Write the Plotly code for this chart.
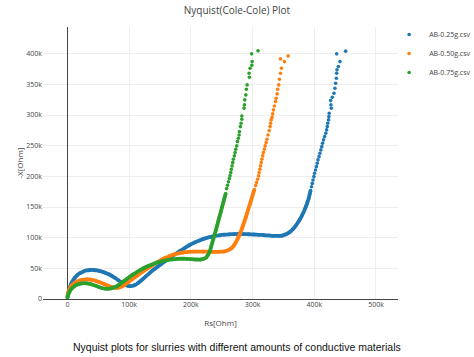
import plotly.graph_objects as go

# ---- data (kOhm) ----
series_names = ["AB-0.25g.csv", "AB-0.50g.csv", "AB-0.75g.csv"]
series_colors = ["#1f77b4", "#ff7f0e", "#2ca02c"]

# AB-0.25g : dense low-frequency part
ab025_low_rs = [0, 1.5, 3.5, 7, 11.5, 16, 21, 26, 31, 37, 42, 47, 52, 57, 62, 67, 72, 77, 82, 86,
                90, 94, 98, 102, 106, 110, 114, 118, 123, 128, 134, 140, 146, 152, 159, 166, 174,
                182, 190, 198, 206, 214, 222, 230, 238, 246, 254, 262, 270, 278, 286, 294, 302, 310,
                318, 326, 334, 342, 348, 353, 357, 361, 365, 368, 371, 374, 377, 380, 382.5, 385,
                387, 389, 391, 392.5, 394]
ab025_low_x = [3, 10, 18, 27, 34, 39, 42.5, 45, 46.5, 47.3, 47.3, 46.8, 45.8, 44.3, 42.5, 40.3, 37.5,
               34.5, 31, 28, 25.2, 22.8, 21.5, 21.1, 21.6, 23.2, 25.8, 29, 33.3, 37.8, 43, 48, 52.5,
               57, 62, 67, 72.5, 78, 83, 88, 92, 95.5, 98.5, 100.8, 102.5, 103.8, 104.8, 105.4,
               105.8, 106, 105.9, 105.6, 105.2, 104.7, 104.2, 103.6, 103, 102.8, 103.3, 105, 107,
               109.8, 113.5, 117, 121, 125.5, 130.5, 136, 141, 147, 152, 158, 164, 170.5, 177]
# AB-0.25g : sparse capacitive tail
ab025_high_rs = [395.5, 396.8, 398, 399.4, 400.5, 402, 403.5, 404.8, 406, 407.8, 409.1, 410.7, 412.2,
                 413.5, 415, 416.7, 418.7, 420, 421.1, 421.8, 423.2, 423.7, 424.2, 427.6, 427, 426.5,
                 429.2, 431.9, 433.5, 434.6, 435.8, 436.3, 436.8, 439, 441.6, 436.3, 450.9]
ab025_high_x = [183, 188.5, 194, 199.6, 205, 210.4, 215.8, 221.3, 226.8, 232.1, 237.7, 243.1, 248.4,
                254, 259.4, 264.8, 270.3, 275.7, 281.1, 286.6, 292, 297.4, 302.9, 311.1, 316.5, 323.5,
                329, 335.6, 343.7, 351.9, 360, 368.2, 373.6, 379, 387.1, 399.7, 404.1]

# AB-0.50g
ab050_low_rs = [0, 1.5, 3.5, 7, 11.5, 16, 21, 26, 31, 36, 41, 46, 51, 56, 61, 66, 71, 75, 79, 83, 87,
                91, 95, 100, 105, 110, 116, 122, 128, 134, 140, 146, 152, 158, 165, 172, 180, 188,
                196, 204, 212, 220, 228, 236, 244, 250, 255, 259, 263, 266.5, 269.5, 272, 274.5, 277,
                279, 281, 283, 285, 287, 289, 291, 293, 295, 297, 299, 301, 303]
ab050_low_x = [5, 11, 17, 22, 26, 28.7, 30.5, 31.5, 32, 31.8, 31, 29.6, 27.8, 25.8, 23.6, 21.6, 19.8,
               18.7, 18.2, 18.5, 19.8, 22, 24.8, 28.5, 32.3, 36, 40.3, 44.5, 48.5, 52.5, 56.5, 60.3,
               63.8, 66.8, 69.8, 72.3, 74.5, 76, 76.9, 77.3, 77.4, 77.3, 77.1, 76.9, 76.8, 77.1, 77.8,
               79, 81, 83.5, 87, 91, 95.5, 100.5, 105, 110, 115.5, 121, 127, 133, 139.5, 146, 152.5,
               159, 165.5, 172, 178.5]
ab050_high_rs = [305, 306.5, 308.2, 309.8, 310.6, 311.8, 313, 314, 315.2, 316.5, 317.5, 319.2, 320.4,
                 322, 323.3, 325, 327, 328.3, 329.2, 330.1, 331.7, 332.7, 333.8, 335.4, 337.1, 338.2,
                 339.8, 340.8, 342.4, 343.6, 345.2, 346.8, 351.7, 345.2, 357.7]
ab050_high_x = [185, 190, 195.2, 200.7, 206.1, 211.6, 217, 222.4, 227.9, 233.3, 238.7, 244.2, 249.6,
                255, 260.5, 267.5, 274.6, 281.1, 286.5, 292, 296.4, 301.8, 308.3, 314.8, 321.9, 327.4,
                334.4, 342.1, 349.1, 358.4, 368.2, 376.3, 387.1, 391.5, 396.4]

# AB-0.75g
ab075_low_rs = [0, 1.5, 3.5, 7, 11.5, 16, 21, 26, 31, 36, 41, 46, 51, 56, 61, 66, 71, 76, 81, 86, 91,
                96, 101, 106, 112, 118, 124, 130, 136, 142, 148, 155, 162, 170, 178, 186, 194, 202,
                210, 216, 221, 225, 228, 230.5, 232.5, 234.5, 236.5, 238.5, 240.5, 242.5, 244.5,
                246.5, 248.5, 250.5, 252.5, 254.5, 256.5]
ab075_low_x = [2, 7, 12, 17, 21, 23.5, 25, 25.8, 25.6, 24.8, 23.3, 21.5, 19.6, 17.9, 16.8, 16.6, 17.3,
               19, 21.5, 25, 28.8, 32.6, 36.3, 39.8, 43.6, 47.2, 50.6, 53.5, 56, 58.2, 60, 61.8, 63.3,
               64.5, 65.3, 65.6, 65.4, 64.9, 64.4, 64.4, 65.5, 68, 72, 77.5, 84, 91, 98, 105, 112,
               119.5, 127, 134.5, 142, 149.5, 157, 164.5, 172]
ab075_high_rs = [258, 259.5, 261, 262.5, 263.5, 264.7, 265.6, 266.8, 267.9, 268.9, 270.5, 271.7, 272.8,
                 274.4, 275.4, 277, 278.2, 278.7, 280.3, 281.4, 282.6, 282.6, 286.3, 286.8, 287.4,
                 289.1, 290, 291.2, 294.9, 294.4, 296, 298.8, 299.3, 298.5, 308.9]
ab075_high_x = [180, 185.5, 191, 196.5, 201, 206.1, 211.6, 217, 222.4, 227.9, 233.3, 238.7, 244.2,
                249.6, 256.6, 262.2, 267.5, 272.9, 281.1, 286.6, 293.1, 298.5, 311.1, 316.5, 324.6,
                332.8, 342.1, 349.1, 361.6, 368.2, 376.3, 381.2, 387.1, 399.7, 404.6]

x_ticks = [0, 100000, 200000, 300000, 400000, 500000]
x_tick_labels = ["0", "100k", "200k", "300k", "400k", "500k"]
y_ticks = [0, 50000, 100000, 150000, 200000, 250000, 300000, 350000, 400000]
y_tick_labels = ["0", "50k", "100k", "150k", "200k", "250k", "300k", "350k", "400k"]

title_text = "Nyquist(Cole-Cole) Plot"
caption_text = "Nyquist plots for slurries with different amounts of conductive materials"

series = [
    (ab025_low_rs, ab025_low_x, ab025_high_rs, ab025_high_x),
    (ab050_low_rs, ab050_low_x, ab050_high_rs, ab050_high_x),
    (ab075_low_rs, ab075_low_x, ab075_high_rs, ab075_high_x),
]

K = 1000.0
fig = go.Figure()
for name, color, (lr, lx, hr, hx) in zip(series_names, series_colors, series):
    # dense part: points are so close they read as a continuous thick band
    fig.add_trace(go.Scatter(
        x=[v * K for v in lr], y=[v * K for v in lx], mode="lines",
        line=dict(color=color, width=3.8, shape="spline", smoothing=0.6),
        legendgroup=name, showlegend=False, hoverinfo="skip"))
    fig.add_trace(go.Scatter(
        x=[v * K for v in lr + hr], y=[v * K for v in lx + hx], mode="markers",
        marker=dict(color=color, size=3.6),
        name=name, legendgroup=name))

fig.update_layout(
    width=474, height=357,
    template="none",
    paper_bgcolor="white", plot_bgcolor="white",
    font=dict(family="Open Sans, DejaVu Sans, sans-serif", color="#444", size=7),
    margin=dict(l=43, r=76, t=27, b=58, pad=0, autoexpand=False),
    title=dict(text=title_text, x=0.5, xref="container", xanchor="center",
               y=1 - 10 / 357, yref="container", yanchor="middle",
               font=dict(size=10, color="#444")),
    showlegend=True,
    legend=dict(x=0.975, y=1.026, xanchor="left", yanchor="top",
                font=dict(size=7, color="#444"), bgcolor="rgba(0,0,0,0)",
                tracegroupgap=0),
    xaxis=dict(range=[-39600, 535700], tickmode="array", tickvals=x_ticks, ticktext=x_tick_labels,
               showgrid=True, gridcolor="#eee", gridwidth=1, automargin=False,
               zeroline=True, zerolinecolor="#444", zerolinewidth=1,
               showline=False, ticks="", tickfont=dict(size=7, color="#444"),
               title=dict(text="Rs[Ohm]", font=dict(size=8, color="#444"), standoff=12)),
    yaxis=dict(range=[0, 443500], tickmode="array", tickvals=y_ticks, ticktext=y_tick_labels,
               showgrid=True, gridcolor="#eee", gridwidth=1, automargin=False,
               zeroline=True, zerolinecolor="#444", zerolinewidth=1,
               showline=False, ticks="", tickfont=dict(size=7, color="#444"),
               title=dict(text="-X[Ohm]", font=dict(size=8, color="#444"), standoff=1)),
    annotations=[dict(text=caption_text, xref="paper", yref="paper",
                      x=(237 - 43) / 355, y=(299 - 347) / 272, xanchor="center", yanchor="middle",
                      showarrow=False,
                      font=dict(family="Liberation Sans, Arial, sans-serif", size=10.5, color="#111"))],
)

fig.write_html("out.html", config={"displayModeBar": False},
               post_script="document.body.style.margin='0';")
